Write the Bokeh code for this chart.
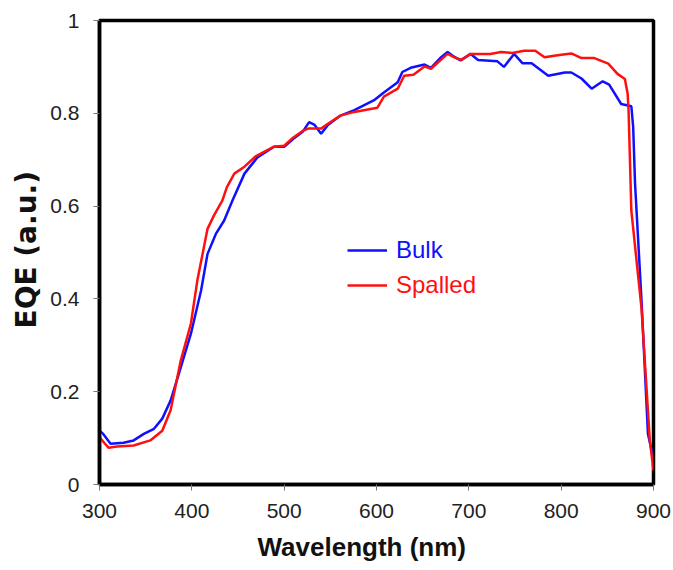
from bokeh.plotting import figure
from bokeh.models import Range1d, FixedTicker, Legend, LegendItem, Title
from bokeh.embed import file_html
from bokeh.resources import INLINE

# Bulk EQE
bulk_wl = [300, 304, 312, 326, 337, 348, 359, 368, 377, 386,
           399, 410, 417, 426, 435, 444, 457, 471, 489, 500,
           510, 520, 527, 533, 540, 547, 561, 576, 598, 608,
           623, 628, 637, 652, 659, 670, 677, 684, 691, 702,
           710, 731, 738, 749, 758, 768, 786, 804, 811, 822,
           833, 845, 852, 865, 876, 878, 880, 887, 894, 900]
bulk_eqe = [0.116, 0.109, 0.088, 0.09, 0.095, 0.109, 0.12, 0.142, 0.181, 0.239,
            0.325, 0.418, 0.497, 0.54, 0.569, 0.612, 0.67, 0.705, 0.728, 0.728,
            0.745, 0.76, 0.781, 0.775, 0.756, 0.774, 0.795, 0.807, 0.829, 0.845,
            0.867, 0.889, 0.898, 0.905, 0.898, 0.921, 0.932, 0.922, 0.914, 0.928,
            0.915, 0.912, 0.90, 0.928, 0.908, 0.908, 0.881, 0.888, 0.888, 0.875,
            0.853, 0.869, 0.862, 0.82, 0.815, 0.77, 0.649, 0.397, 0.109, 0.055]

# Spalled EQE
spalled_wl = [300, 305, 310, 319, 337, 355, 368, 377, 388, 399,
              406, 417, 424, 433, 438, 446, 457, 469, 489, 500,
              510, 520, 526, 540, 547, 561, 576, 601, 608, 623,
              630, 640, 652, 659, 673, 677, 685, 692, 702, 723,
              735, 747, 760, 772, 782, 796, 811, 822, 836, 851,
              861, 869, 872, 873, 874, 876, 887, 896, 900]
spalled_eqe = [0.102, 0.09, 0.079, 0.082, 0.084, 0.095, 0.116, 0.16, 0.267, 0.347,
               0.44, 0.551, 0.58, 0.612, 0.641, 0.67, 0.685, 0.707, 0.728, 0.73,
               0.748, 0.762, 0.767, 0.767, 0.777, 0.795, 0.803, 0.812, 0.836, 0.853,
               0.881, 0.883, 0.901, 0.896, 0.921, 0.928, 0.92, 0.915, 0.928, 0.928,
               0.932, 0.93, 0.935, 0.935, 0.921, 0.925, 0.929, 0.919, 0.919, 0.907,
               0.885, 0.874, 0.842, 0.806, 0.735, 0.59, 0.38, 0.095, 0.03]

x_ticks = [300, 400, 500, 600, 700, 800, 900]
y_ticks = [0, 0.2, 0.4, 0.6, 0.8, 1]
y_tick_labels = ["0", "0.2", "0.4", "0.6", "0.8", "1"]
x_title = "Wavelength (nm)"
y_title = "EQE (a.u.)"

FONT = "Liberation Sans"
BLUE = "#1010ff"
RED = "#ff1010"

p = figure(width=673, height=570, output_backend="svg", toolbar_location=None,
           x_range=Range1d(300, 900), y_range=Range1d(0, 1),
           min_border_left=99, min_border_right=20, min_border_top=20, min_border_bottom=86)
p.grid.visible = False
p.outline_line_color = "black"
p.outline_line_width = 3.5
p.background_fill_color = "white"

for ax in (p.xaxis[0], p.yaxis[0]):
    ax.axis_line_color = "black"
    ax.axis_line_width = 3.5
    ax.major_tick_in = 0
    ax.major_tick_out = 6
    ax.major_tick_line_color = "#777777"
    ax.minor_tick_line_color = None
    ax.major_label_text_font = FONT
    ax.major_label_text_font_size = "21px"
    ax.major_label_text_color = "#222222"

p.xaxis.ticker = FixedTicker(ticks=x_ticks)
p.yaxis.ticker = FixedTicker(ticks=y_ticks)
p.yaxis.major_label_overrides = {t: l for t, l in zip(y_ticks, y_tick_labels)}
p.xaxis.major_label_standoff = 13
p.yaxis.major_label_standoff = 14

# axis titles (slightly off-centre as in the original)
p.add_layout(Title(text=x_title, align="left", offset=158, standoff=18,
                   text_font=FONT, text_font_size="26px", text_font_style="bold",
                   text_color="#111111"), "below")
p.add_layout(Title(text=y_title, align="left", offset=156, standoff=10,
                   text_font="DejaVu Sans", text_font_size="28px", text_font_style="bold",
                   text_color="#111111"), "left")

r_bulk = p.line(bulk_wl, bulk_eqe, line_color=BLUE, line_width=2.5)
r_spalled = p.line(spalled_wl, spalled_eqe, line_color=RED, line_width=2.5)

def make_legend(label, renderer, color, loc):
    lg = Legend(items=[LegendItem(label=label, renderers=[renderer])], location=loc,
                padding=0, margin=0, border_line_color=None, background_fill_alpha=0,
                glyph_width=40, glyph_height=20, label_standoff=9,
                label_text_font=FONT, label_text_font_size="24px",
                label_text_color=color)
    p.add_layout(lg, "center")

make_legend("Bulk", r_bulk, BLUE, (248, 220))
make_legend("Spalled", r_spalled, RED, (248, 185))

open("out.html", "w").write(file_html(p, INLINE))
